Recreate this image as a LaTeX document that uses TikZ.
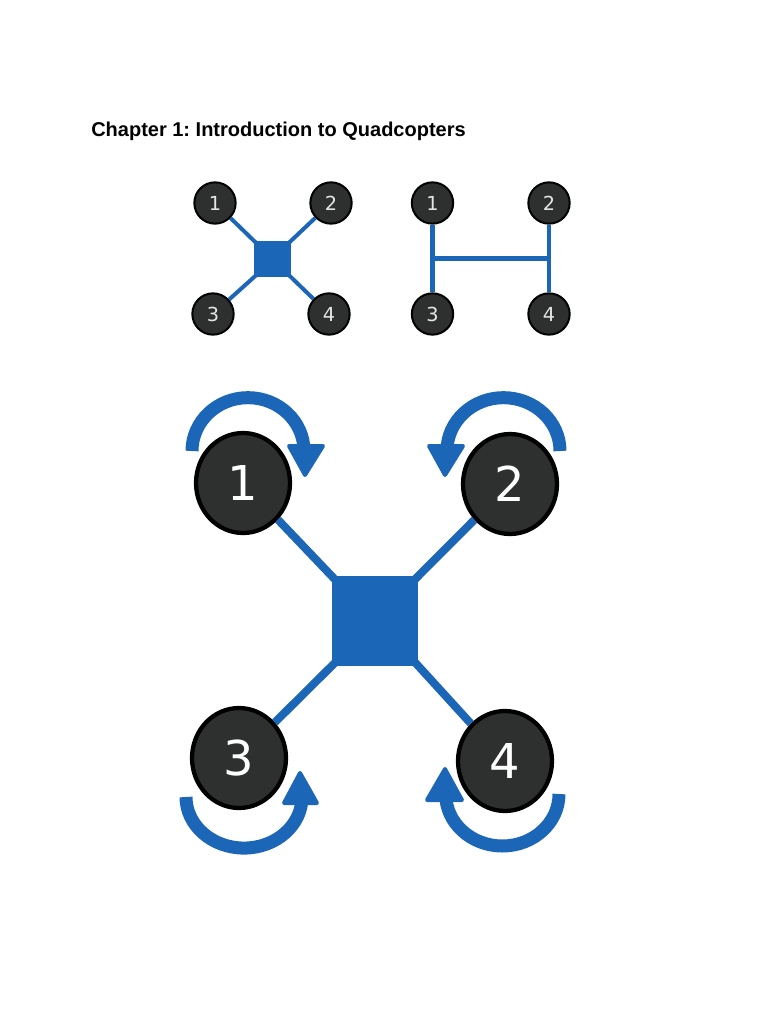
\documentclass[tikz,border=0pt]{standalone}
\usepackage{fontspec}
\setmainfont{Liberation Sans}
\newfontfamily\digitfont{DejaVu Sans}
\usetikzlibrary{shapes.geometric}
\definecolor{armblue}{HTML}{1C66B8}
\definecolor{motorgrey}{HTML}{2E3030}

\begin{document}
\begin{tikzpicture}[x=0.75pt, y=0.75pt,
 smallmotor/.style={draw=black, fill=motorgrey, circle, minimum size=31pt, inner sep=0pt, line width=1.5pt,
 text=white!90!black, font=\digitfont\fontsize{14.5}{16}\selectfont},
 bigmotor/.style={draw=black, fill=motorgrey, ellipse, minimum width=70.5pt, minimum height=75pt, inner sep=0pt,
 line width=3.2pt, text=white, font=\digitfont\fontsize{36}{40}\selectfont},
 smallhub/.style={fill=armblue, minimum width=27.5pt, minimum height=27pt, inner sep=0pt, outer sep=0pt},
 bighub/.style={fill=armblue, minimum width=65pt, minimum height=67.5pt, inner sep=0pt, outer sep=0pt},
 smallarm/.style={armblue, line width=3pt, shorten >=-2pt},
 harm/.style={armblue, line width=3.4pt},
 bigarm/.style={armblue, line width=6pt, shorten >=-4pt},
 spin/.style={armblue, line width=9.75pt},
 spinhead/.style={fill=armblue, draw=armblue, line width=3pt, line join=round}]
\useasboundingbox (0,0) rectangle (768,-1024);
\node[anchor=west, inner sep=0pt, font=\bfseries\fontsize{15}{18}\selectfont] (title) at (91,-131.5)
 {\frenchspacing Chapter 1: Introduction to Quadcopters};

% x frame
\node[smallhub] (xhub) at (272.5,-259) {};
\node[smallmotor] (x1) at (215,-203) {1};
\node[smallmotor] (x2) at (331,-203) {2};
\node[smallmotor] (x3) at (213,-314) {3};
\node[smallmotor] (x4) at (329,-314) {4};
\draw[smallarm] (x1) -- (xhub.north west);
\draw[smallarm] (x2) -- (xhub.north east);
\draw[smallarm] (x3) -- (xhub.south west);
\draw[smallarm] (x4) -- (xhub.south east);

% h frame
\node[smallmotor] (h1) at (432.5,-203) {1};
\node[smallmotor] (h2) at (549,-203) {2};
\node[smallmotor] (h3) at (432.5,-314) {3};
\node[smallmotor] (h4) at (549,-314) {4};
\draw[harm] (h1) -- coordinate (hleft) (h3);
\draw[harm] (h2) -- coordinate (hright) (h4);
\draw[harm] (hleft) -- (hright);

% large x frame
\node[bighub] (hub) at (375,-621) {};
\node[bigmotor] (m1) at (243,-483) {1};
\node[bigmotor] (m2) at (510,-484) {2};
\node[bigmotor] (m3) at (239,-758) {3};
\node[bigmotor] (m4) at (505,-761) {4};
\draw[bigarm] (m1) -- (hub.north west);
\draw[bigarm] (m2) -- (hub.north east);
\draw[bigarm] (m3) -- (hub.south west);
\draw[bigarm] (m4) -- (hub.south east);

% rotation arrows
\draw[spin] (192,-451) arc[start angle=180, end angle=0, x radius=42pt, y radius=40pt];
\draw[spinhead] (289,-446) -- (323,-446) -- (305,-475) -- cycle;
\draw[spin] (560,-451) arc[start angle=0, end angle=180, x radius=42.4pt, y radius=40pt];
\draw[spinhead] (429,-446) -- (463,-446) -- (445,-475) -- cycle;
\draw[spin] (186,-797) arc[start angle=180, end angle=360, x radius=43.5pt, y radius=38.3pt];
\draw[spinhead] (284,-803) -- (317,-803) -- (300,-773) -- cycle;
\draw[spin] (559,-794) arc[start angle=0, end angle=-180, x radius=42.5pt, y radius=39pt];
\draw[spinhead] (427,-800) -- (462,-800) -- (445,-769) -- cycle;
\end{tikzpicture}
\end{document}
